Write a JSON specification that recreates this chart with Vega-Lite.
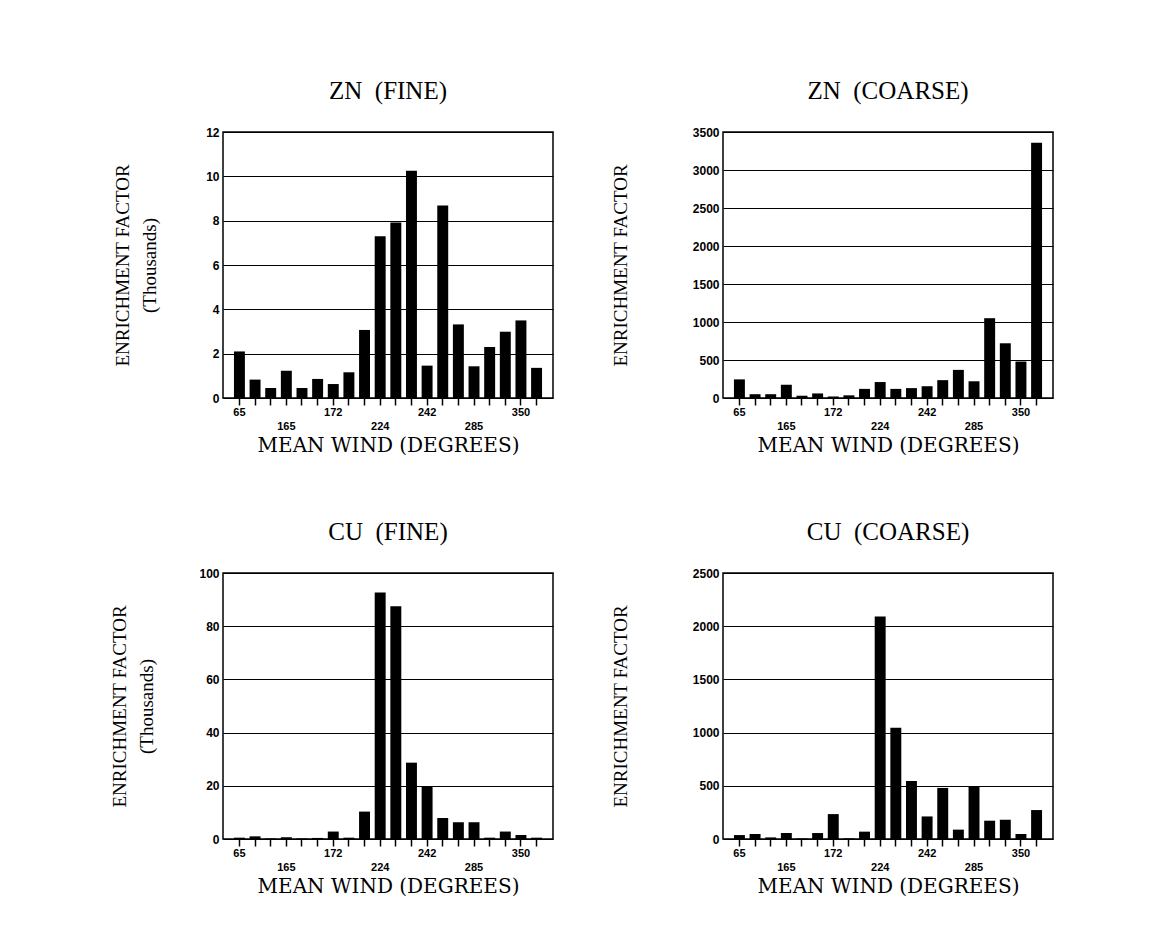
{
  "$schema": "https://vega.github.io/schema/vega-lite/v6.json",
  "background": "white",
  "padding": {"left": 110, "top": 78, "right": 5, "bottom": 5},
  "columns": 2,
  "bounds": "flush",
  "spacing": {"row": 175, "column": 170},
  "datasets": {
    "zn_fine": [
      {"bin": 1, "ef": 2.1}, {"bin": 2, "ef": 0.83}, {"bin": 3, "ef": 0.45}, {"bin": 4, "ef": 1.23},
      {"bin": 5, "ef": 0.45}, {"bin": 6, "ef": 0.86}, {"bin": 7, "ef": 0.63}, {"bin": 8, "ef": 1.16},
      {"bin": 9, "ef": 3.07}, {"bin": 10, "ef": 7.3}, {"bin": 11, "ef": 7.92}, {"bin": 12, "ef": 10.25},
      {"bin": 13, "ef": 1.46}, {"bin": 14, "ef": 8.68}, {"bin": 15, "ef": 3.32}, {"bin": 16, "ef": 1.43},
      {"bin": 17, "ef": 2.3}, {"bin": 18, "ef": 2.99}, {"bin": 19, "ef": 3.5}, {"bin": 20, "ef": 1.36}
    ],
    "zn_coarse": [
      {"bin": 1, "ef": 245}, {"bin": 2, "ef": 50}, {"bin": 3, "ef": 50}, {"bin": 4, "ef": 175},
      {"bin": 5, "ef": 30}, {"bin": 6, "ef": 60}, {"bin": 7, "ef": 20}, {"bin": 8, "ef": 35},
      {"bin": 9, "ef": 120}, {"bin": 10, "ef": 210}, {"bin": 11, "ef": 120}, {"bin": 12, "ef": 130},
      {"bin": 13, "ef": 155}, {"bin": 14, "ef": 235}, {"bin": 15, "ef": 370}, {"bin": 16, "ef": 220},
      {"bin": 17, "ef": 1050}, {"bin": 18, "ef": 720}, {"bin": 19, "ef": 480}, {"bin": 20, "ef": 3360}
    ],
    "cu_fine": [
      {"bin": 1, "ef": 0.5}, {"bin": 2, "ef": 1.0}, {"bin": 3, "ef": 0.2}, {"bin": 4, "ef": 0.7},
      {"bin": 5, "ef": 0.2}, {"bin": 6, "ef": 0.4}, {"bin": 7, "ef": 2.8}, {"bin": 8, "ef": 0.5},
      {"bin": 9, "ef": 10.3}, {"bin": 10, "ef": 92.7}, {"bin": 11, "ef": 87.5}, {"bin": 12, "ef": 28.7},
      {"bin": 13, "ef": 19.6}, {"bin": 14, "ef": 7.9}, {"bin": 15, "ef": 6.3}, {"bin": 16, "ef": 6.3},
      {"bin": 17, "ef": 0.5}, {"bin": 18, "ef": 2.8}, {"bin": 19, "ef": 1.5}, {"bin": 20, "ef": 0.5}
    ],
    "cu_coarse": [
      {"bin": 1, "ef": 37}, {"bin": 2, "ef": 47}, {"bin": 3, "ef": 15}, {"bin": 4, "ef": 56},
      {"bin": 5, "ef": 5}, {"bin": 6, "ef": 56}, {"bin": 7, "ef": 234}, {"bin": 8, "ef": 6},
      {"bin": 9, "ef": 69}, {"bin": 10, "ef": 2090}, {"bin": 11, "ef": 1045}, {"bin": 12, "ef": 545},
      {"bin": 13, "ef": 212}, {"bin": 14, "ef": 480}, {"bin": 15, "ef": 88}, {"bin": 16, "ef": 494},
      {"bin": 17, "ef": 172}, {"bin": 18, "ef": 181}, {"bin": 19, "ef": 47}, {"bin": 20, "ef": 272}
    ]
  },
  "concat": [
    {
      "title": "ZN\u00a0\u00a0(FINE)",
      "width": 330, "height": 266,
      "data": {"name": "zn_fine"},
      "mark": {"type": "bar", "color": "black"},
      "encoding": {
        "x": {"field": "bin", "type": "ordinal", "scale": {"paddingInner": 0.3, "paddingOuter": 0.7},
              "axis": {"title": "MEAN WIND (DEGREES)", "labelExpr": "datum.value==1?'65':datum.value==4?['','165']:datum.value==7?'172':datum.value==10?['','224']:datum.value==13?'242':datum.value==16?['','285']:datum.value==19?'350':''"}},
        "y": {"field": "ef", "type": "quantitative", "scale": {"domain": [0, 12], "nice": false},
              "axis": {"values": [0, 2, 4, 6, 8, 10, 12], "title": ["ENRICHMENT FACTOR", "(Thousands)"], "titlePadding": 46}}
      }
    },
    {
      "title": "ZN\u00a0\u00a0(COARSE)",
      "width": 330, "height": 266,
      "data": {"name": "zn_coarse"},
      "mark": {"type": "bar", "color": "black"},
      "encoding": {
        "x": {"field": "bin", "type": "ordinal", "scale": {"paddingInner": 0.3, "paddingOuter": 0.7},
              "axis": {"title": "MEAN WIND (DEGREES)", "labelExpr": "datum.value==1?'65':datum.value==4?['','165']:datum.value==7?'172':datum.value==10?['','224']:datum.value==13?'242':datum.value==16?['','285']:datum.value==19?'350':''"}},
        "y": {"field": "ef", "type": "quantitative", "scale": {"domain": [0, 3500], "nice": false},
              "axis": {"values": [0, 500, 1000, 1500, 2000, 2500, 3000, 3500], "format": "d", "title": "ENRICHMENT FACTOR", "titlePadding": 62}}
      }
    },
    {
      "title": "CU\u00a0\u00a0(FINE)",
      "width": 330, "height": 266,
      "data": {"name": "cu_fine"},
      "mark": {"type": "bar", "color": "black"},
      "encoding": {
        "x": {"field": "bin", "type": "ordinal", "scale": {"paddingInner": 0.3, "paddingOuter": 0.7},
              "axis": {"title": "MEAN WIND (DEGREES)", "labelExpr": "datum.value==1?'65':datum.value==4?['','165']:datum.value==7?'172':datum.value==10?['','224']:datum.value==13?'242':datum.value==16?['','285']:datum.value==19?'350':''"}},
        "y": {"field": "ef", "type": "quantitative", "scale": {"domain": [0, 100], "nice": false},
              "axis": {"values": [0, 20, 40, 60, 80, 100], "title": ["ENRICHMENT FACTOR", "(Thousands)"], "titlePadding": 42}}
      }
    },
    {
      "title": "CU\u00a0\u00a0(COARSE)",
      "width": 330, "height": 266,
      "data": {"name": "cu_coarse"},
      "mark": {"type": "bar", "color": "black"},
      "encoding": {
        "x": {"field": "bin", "type": "ordinal", "scale": {"paddingInner": 0.3, "paddingOuter": 0.7},
              "axis": {"title": "MEAN WIND (DEGREES)", "labelExpr": "datum.value==1?'65':datum.value==4?['','165']:datum.value==7?'172':datum.value==10?['','224']:datum.value==13?'242':datum.value==16?['','285']:datum.value==19?'350':''"}},
        "y": {"field": "ef", "type": "quantitative", "scale": {"domain": [0, 2500], "nice": false},
              "axis": {"values": [0, 500, 1000, 1500, 2000, 2500], "format": "d", "title": "ENRICHMENT FACTOR", "titlePadding": 62}}
      }
    }
  ],
  "config": {
    "view": {"stroke": "black", "strokeWidth": 1.5},
    "axis": {
      "labelFont": "Liberation Sans", "labelFontSize": 12, "labelFontWeight": "bold", "labelColor": "black",
      "titleFont": "Liberation Serif", "titleFontWeight": "normal", "titleColor": "black",
      "domain": false, "tickColor": "black"
    },
    "axisX": {
      "tickSize": 7, "tickWidth": 1.5, "grid": false, "labelAngle": 0, "labelPadding": 1,
      "labelFontSize": 11, "labelOverlap": false, "labelFlush": false, "labelLineHeight": 14,
      "titleFont": "DejaVu Serif", "titleFontSize": 20, "titlePadding": 4
    },
    "axisY": {
      "ticks": false, "grid": true, "gridColor": "black", "gridWidth": 1.2, "gridOpacity": 1,
      "labelPadding": 4, "titleFontSize": 19, "titleLineHeight": 27
    },
    "title": {"font": "Liberation Serif", "fontSize": 25, "fontWeight": "normal", "color": "black", "offset": 22}
  }
}
